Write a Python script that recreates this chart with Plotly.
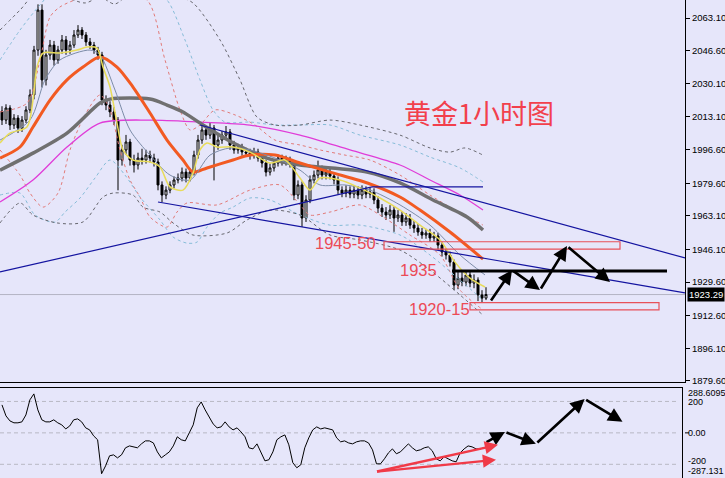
import plotly.graph_objects as go

BG = "#E6E6FA"

# ---------------- price data (1h candles) ----------------
BAR = list(range(122))
OPEN = [2016.0, 2011.5, 2017.6, 2009.0, 2012.5, 2007.5, 2011.5, 2016.6, 2024.2, 2046.9,
        2067.1, 2031.8, 2044.4, 2049.4, 2041.9, 2046.9, 2052.0, 2046.9, 2049.4, 2054.5,
        2057.0, 2054.5, 2051.0, 2049.4, 2046.9, 2044.4, 2021.6, 2019.1, 2015.6, 2011.5,
        1991.3, 1996.4, 2000.4, 1991.3, 1988.8, 1992.3, 1991.3, 1993.8, 1992.3, 1990.3,
        1978.7, 1973.6, 1976.1, 1978.7, 1981.2, 1982.2, 1985.2, 1982.2, 1985.2, 1993.8,
        2001.4, 2006.5, 2003.9, 2007.5, 1998.9, 2001.4, 2003.9, 2005.5, 1998.9, 1996.4,
        1997.4, 1995.4, 1994.8, 1993.8, 1995.4, 1992.3, 1989.8, 1985.2, 1987.3, 1989.8,
        1992.3, 1990.3, 1991.3, 1989.3, 1973.6, 1978.7, 1962.0, 1971.1, 1981.2, 1983.7,
        1986.3, 1983.7, 1985.2, 1983.2, 1981.2, 1976.1, 1974.6, 1976.1, 1974.1, 1976.1,
        1973.6, 1976.1, 1974.1, 1975.1, 1971.1, 1967.0, 1965.0, 1963.5, 1966.0, 1962.0,
        1963.5, 1960.0, 1962.0, 1958.4, 1956.9, 1954.9, 1953.4, 1954.4, 1951.9, 1952.9,
        1948.3, 1944.8, 1943.3, 1939.7, 1928.1, 1931.6, 1929.6, 1933.2, 1929.1, 1930.6,
        1923.1, 1921.5]
HIGH = [2018.5, 2019.5, 2019.0, 2014.5, 2014.0, 2013.5, 2018.5, 2027.0, 2049.0, 2070.0,
        2070.0, 2047.0, 2052.0, 2051.5, 2049.0, 2054.5, 2054.0, 2051.5, 2057.0, 2059.5,
        2058.5, 2056.0, 2053.0, 2051.0, 2048.5, 2046.0, 2024.0, 2021.0, 2018.0, 2013.0,
        1999.0, 2004.0, 2002.0, 1994.0, 1995.0, 1997.0, 1996.5, 1996.0, 1994.5, 1992.0,
        1980.5, 1978.0, 1980.5, 1983.0, 1984.5, 1987.5, 1987.0, 1987.0, 1996.0, 2004.0,
        2009.0, 2008.5, 2010.0, 2009.0, 2004.0, 2006.0, 2008.5, 2007.0, 2001.0, 1999.5,
        1999.5, 1997.5, 1997.0, 1997.5, 1997.0, 1994.0, 1991.5, 1989.5, 1991.5, 1994.0,
        1994.0, 1993.5, 1993.0, 1991.0, 1981.0, 1980.5, 1973.5, 1983.5, 1986.0, 1991.0,
        1988.5, 1987.5, 1987.5, 1985.0, 1983.0, 1978.0, 1978.5, 1978.0, 1978.5, 1978.0,
        1978.5, 1978.0, 1977.5, 1977.0, 1973.0, 1969.0, 1967.5, 1968.5, 1968.0, 1966.0,
        1965.5, 1964.5, 1964.0, 1960.5, 1959.0, 1957.0, 1956.5, 1956.5, 1955.0, 1954.5,
        1950.0, 1946.5, 1945.0, 1941.0, 1935.5, 1935.0, 1935.5, 1935.0, 1933.5, 1932.0,
        1925.5, 1927.0]
LOW = [2009.0, 2009.5, 2006.5, 2007.0, 2005.0, 2005.5, 2010.0, 2015.0, 2022.0, 2044.0,
       2028.0, 2029.0, 2042.0, 2039.0, 2040.0, 2045.0, 2044.5, 2045.0, 2048.0, 2053.0,
       2052.5, 2049.0, 2047.5, 2045.0, 2042.0, 2019.0, 2016.5, 2013.0, 2009.0, 1976.0,
       1988.5, 1994.0, 1988.5, 1985.0, 1986.5, 1989.0, 1989.5, 1990.0, 1988.0, 1976.0,
       1970.0, 1971.5, 1974.5, 1977.0, 1979.5, 1980.5, 1980.0, 1980.5, 1983.5, 1992.0,
       1999.5, 2001.5, 2002.0, 1981.0, 1996.5, 1999.5, 2002.0, 1996.5, 1994.5, 1994.5,
       1993.5, 1993.0, 1991.5, 1992.0, 1990.5, 1987.5, 1983.0, 1983.5, 1985.5, 1988.0,
       1988.5, 1988.5, 1987.5, 1971.0, 1971.5, 1957.5, 1960.0, 1969.5, 1979.5, 1982.0,
       1981.5, 1981.5, 1981.5, 1979.0, 1974.0, 1972.5, 1972.5, 1972.0, 1972.0, 1971.5,
       1971.5, 1972.0, 1972.0, 1969.0, 1964.5, 1962.5, 1961.0, 1961.5, 1955.0, 1960.0,
       1958.0, 1958.0, 1956.5, 1954.5, 1953.0, 1951.5, 1951.5, 1950.0, 1950.0, 1946.0,
       1942.5, 1941.0, 1937.5, 1925.5, 1926.0, 1927.5, 1927.5, 1927.0, 1926.5, 1920.0,
       1919.5, 1920.5]
CLOSE = [2011.5, 2017.6, 2009.0, 2012.5, 2007.5, 2011.5, 2016.6, 2024.2, 2046.9, 2067.1,
         2031.8, 2044.4, 2049.4, 2041.9, 2046.9, 2052.0, 2046.9, 2049.4, 2054.5, 2057.0,
         2054.5, 2051.0, 2049.4, 2046.9, 2044.4, 2021.6, 2019.1, 2015.6, 2011.5, 1991.3,
         1996.4, 2000.4, 1991.3, 1988.8, 1992.3, 1991.3, 1993.8, 1992.3, 1990.3, 1978.7,
         1973.6, 1976.1, 1978.7, 1981.2, 1982.2, 1985.2, 1982.2, 1985.2, 1993.8, 2001.4,
         2006.5, 2003.9, 2007.5, 1998.9, 2001.4, 2003.9, 2005.5, 1998.9, 1996.4, 1997.4,
         1995.4, 1994.8, 1993.8, 1995.4, 1992.3, 1989.8, 1985.2, 1987.3, 1989.8, 1992.3,
         1990.3, 1991.3, 1989.3, 1973.6, 1978.7, 1962.0, 1971.1, 1981.2, 1983.7, 1986.3,
         1983.7, 1985.2, 1983.2, 1981.2, 1976.1, 1974.6, 1976.1, 1974.1, 1976.1, 1973.6,
         1976.1, 1974.1, 1975.1, 1971.1, 1967.0, 1965.0, 1963.5, 1966.0, 1962.0, 1963.5,
         1960.0, 1962.0, 1958.4, 1956.9, 1954.9, 1953.4, 1954.4, 1951.9, 1952.9, 1948.3,
         1944.8, 1943.3, 1939.7, 1928.1, 1931.6, 1929.6, 1933.2, 1929.1, 1930.6, 1923.1,
         1921.5, 1923.3]

CCI = [178, 108, 76, 64, 64, 70, 114, 210, 248, 146,
       83, 70, 70, 83, 64, 51, 25, 44, 83, 89,
       70, 32, 19, -19, -44, -260, -210, -146, -140, -159,
       -140, -95, -83, -89, -95, -70, -51, -51, -64, -121,
       -159, -140, -121, -83, -25, -44, -51, 0, 51, 159,
       197, 146, 102, 57, 32, 38, 70, 38, 19, 32,
       6, -25, -95, -102, -70, -121, -178, -171, -121, -44,
       -25, -13, -76, -190, -222, -203, -95, -32, 19, 38,
       25, 32, 25, 19, -32, -57, -51, -64, -70, -57,
       -51, -51, -64, -108, -197, -197, -165, -127, -102, -133,
       -121, -95, -70, -95, -114, -108, -95, -89, -114, -165,
       -178, -152, -165, -178, -184, -127, -102, -83, -89, -102,
       -102, -95]

# ---------------- moving averages ----------------
YELLOW_X = [-0.5, 2, 6.25, 7.75, 8.75, 10.25, 14.5, 18.75, 21.25, 23.75, 25.25, 27, 28.75, 30.25,
            32.75, 37, 39.5, 42, 45.25, 47.75, 49.5, 51.25, 53.75, 57.75, 62, 67, 70.75, 74.5,
            77, 79.5, 84.5, 89.5, 94.5, 99.5, 104.5, 109.5, 113.25, 117, 120.75]
YELLOW_Y = [1999.9, 2004.9, 2008.0, 2021.6, 2038.3, 2045.4, 2045.4, 2046.9, 2048.4, 2047.9,
            2038.3, 2028.2, 2010.0, 1996.4, 1991.3, 1990.3, 1987.8, 1977.7, 1976.1, 1984.7,
            1996.4, 1999.9, 1997.9, 1997.9, 1995.3, 1989.8, 1991.3, 1982.2, 1976.1, 1982.2,
            1981.2, 1977.1, 1972.1, 1966.0, 1958.4, 1950.9, 1939.7, 1931.6, 1927.1]
THIN_X = [-0.5, 7, 10.75, 14.5, 22, 24.5, 28.25, 32, 37, 42, 47, 52, 57, 62, 69.5, 74.5,
          79.5, 85.75, 92, 99.5, 107, 114.5, 120.75]
THIN_Y = [2001.4, 2011.5, 2031.8, 2041.9, 2046.9, 2044.4, 2026.7, 2006.5, 1993.8, 1983.7,
          1981.2, 1993.8, 1997.4, 1996.4, 1991.3, 1986.2, 1978.7, 1978.7, 1976.1, 1968.6,
          1958.4, 1943.3, 1933.2]
ORANGE_X = [-0.5, 4.5, 7.75, 12, 16.25, 20.25, 24.5, 28.75, 32.75, 37, 41.25, 45.25, 47.75,
            51.25, 57.75, 62, 68.25, 74.5, 82, 92, 99.5, 104.5, 112, 120.25]
ORANGE_Y = [1992.3, 1997.9, 2008.0, 2021.6, 2031.8, 2038.3, 2043.4, 2038.3, 2028.2, 2015.1,
            2001.4, 1991.3, 1985.2, 1987.3, 1991.3, 1993.8, 1993.8, 1989.8, 1985.2, 1979.2,
            1972.6, 1966.0, 1954.9, 1941.2]
GRAY_X = [-0.5, 7.75, 16.25, 24.5, 27, 37, 41.25, 45.25, 49.5, 57.75, 66.25, 74.5, 91.25,
          99.5, 107.75, 116.25, 120.25]
GRAY_Y = [1986.2, 1994.8, 2004.9, 2020.1, 2022.1, 2022.1, 2019.1, 2015.6, 2010.0, 2000.0,
          1992.3, 1988.8, 1985.2, 1979.7, 1971.1, 1962.5, 1955.9]
MAGENTA_X = [-0.5, 7.75, 16.25, 24.5, 37, 49.5, 62, 74.5, 87, 99.5, 107, 114.5, 120.25]
MAGENTA_Y = [1970.1, 1981.2, 1997.9, 2010.0, 2011.5, 2010.5, 2009.0, 2003.9, 1996.4, 1988.8,
             1981.2, 1973.6, 1966.0]

# ---------------- envelope bands (dashed) ----------------
RED_UP_X = [-0.5, 6.25, 9.5, 12, 14.5, 19.5, 27, 36.25, 40.75, 44.5, 47, 49.5, 53.25, 58.25,
            63.25, 68.25, 74.5, 79.5, 85.75, 92, 99.5, 107, 113.25, 120.25]
RED_UP_Y = [2015.6, 2020.1, 2041.9, 2063.6, 2068.7, 2073.2, 2077.3, 2072.2, 2041.9, 2016.6,
            2006.5, 2009.0, 2016.6, 2014.1, 2009.0, 2001.4, 1998.9, 1996.4, 1993.8, 1991.3,
            1983.7, 1973.6, 1966.0, 1958.4]
RED_LO_X = [-0.5, 4.5, 7, 10.25, 14, 17, 20.75, 24.5, 27, 29.5, 32, 34.5, 37, 41.25, 43.75,
            46.25, 53.75, 62, 69.5, 74.5, 77, 82, 89.5, 94.5, 102, 109.5, 114.5, 120.25]
RED_LO_Y = [1996.4, 1983.7, 1974.6, 1967.5, 1974.6, 1996.4, 2014.1, 2024.2, 2016.6, 1996.4,
            1981.2, 1972.6, 1962.5, 1957.4, 1965.0, 1969.6, 1968.6, 1976.1, 1978.7, 1968.6,
            1963.5, 1965.0, 1968.6, 1963.5, 1953.4, 1943.3, 1925.6, 1915.5]
BLUE_UP_X = [-0.5, 4.5, 9.5, 14.5, 22, 29.5, 37, 41.25, 45.75, 49.5, 52.75, 55.75, 62, 68.25,
             74.5, 82, 89.5, 99.5, 107, 114.5, 120.25]
BLUE_UP_Y = [2041.9, 2057.0, 2069.7, 2079.8, 2074.7, 2077.3, 2077.3, 2072.2, 2052.0, 2031.8,
             2016.6, 2010.5, 2010.5, 2009.0, 2009.0, 2009.0, 2003.9, 1998.9, 1992.8, 1987.3,
             1980.2]
BLUE_LO_X = [-0.5, 4.5, 8.25, 13.25, 15.75, 19.5, 23.25, 27, 30.75, 34.5, 39.5, 42.75, 46.25,
             48.75, 51.25, 54.5, 57.75, 62, 67, 74.5, 82, 89.5, 99.5, 107, 114.5, 120.25]
BLUE_LO_Y = [1973.6, 1974.6, 1963.5, 1959.9, 1965.0, 1972.1, 1982.2, 1991.3, 1983.7, 1972.6,
             1961.0, 1952.4, 1949.3, 1949.8, 1957.4, 1964.5, 1967.5, 1972.1, 1971.1, 1963.5,
             1958.4, 1958.4, 1953.4, 1943.3, 1930.6, 1920.5]
GREY_UP_X = [-0.5, 4.5, 9.5, 20.75, 24.5, 28.25, 34.5, 43.25, 47.75, 54.5, 59.5, 63.75, 68.25,
             74.5, 82, 89.5, 99.5, 107, 112, 115.75, 120.25]
GREY_UP_Y = [2057.0, 2067.1, 2077.3, 2070.7, 2073.7, 2070.2, 2079.8, 2074.7, 2070.7, 2052.0,
             2031.8, 2013.0, 2009.0, 2009.0, 2011.5, 2009.0, 2003.9, 1997.4, 1995.3, 1997.4,
             1993.8]
GREY_LO_X = [-0.5, 4.5, 7.75, 13.75, 20.25, 25.25, 27.75, 32.75, 35.25, 39.5, 42.75, 47.75,
             56.25, 61.25, 67, 74.5, 82, 89.5, 99.5, 107, 114.5, 120.25]
GREY_LO_Y = [1959.5, 1969.6, 1963.5, 1959.5, 1960.0, 1972.6, 1974.6, 1973.6, 1967.5, 1965.0,
             1959.5, 1953.4, 1954.4, 1961.0, 1966.0, 1963.5, 1953.4, 1950.9, 1945.8, 1935.7,
             1923.1, 1912.9]

# ---------------- drawn objects ----------------
TREND_RISE = ([-0.5, 92.5], [1934.7, 1977.7])
TREND_FLAT = ([92.5, 120.25], [1977.7, 1977.7])
TREND_UPPER = ([49.5, 170.75], [2009.0, 1941.8])
TREND_LOWER = ([39.0, 170.75], [1970.1, 1924.1])
LEVEL_1935 = ([112.5, 166.25], [1935.2, 1935.2])
ZONE_1945_50 = (95.5, 154.5, 1946.3, 1950.0)
ZONE_1920_15 = (117.0, 164.25, 1915.6, 1919.2)
LAST_PRICE = 1923.29
PRICE_PATH = [(122, 1919.5), (127.5, 1935.7), (134.5, 1925.6), (141.25, 1947.8), (152, 1929.6)]
CCI_PATH = [(121.25, -63.5), (126.25, 6.3), (134, -69.9), (146.25, 216), (155.75, 70)]
CCI_RED = [((93.75, -247.7), (124.5, -76)), ((93.75, -247.7), (124, -171))]

PRICE_TICKS = [2063.10, 2046.60, 2030.10, 2013.10, 1996.60, 1979.60, 1963.10, 1946.10,
               1929.60, 1912.60, 1896.10, 1879.60]
CCI_TICKS = [288.6095, 200, 0, -200, -287.131]
CCI_TICKTEXT = ["288.6095", "200", "0.00", "-200", "-287.131"]
CCI_LABEL_SHIFT = [-5, -1, 0, 3, 7]   # px, MT4 nudges edge labels inward

XR = [-0.5, 170.75]

fig = go.Figure()

fig.add_trace(go.Candlestick(
    x=BAR, open=OPEN, high=HIGH, low=LOW, close=CLOSE,
    increasing=dict(line=dict(color="black", width=1), fillcolor="white"),
    decreasing=dict(line=dict(color="black", width=1), fillcolor="black"),
    whiskerwidth=0, showlegend=False, hoverinfo="skip", xaxis="x", yaxis="y"))


def line(xs, ys, color, width, dash="solid", shape="spline", xa="x", ya="y"):
    fig.add_trace(go.Scatter(x=xs, y=ys, mode="lines",
                             line=dict(color=color, width=width, dash=dash, shape=shape,
                                       smoothing=0.8 if shape == "spline" else None),
                             showlegend=False, hoverinfo="skip", xaxis=xa, yaxis=ya))


for xs, ys, c in [(RED_UP_X, RED_UP_Y, "#E27A78"), (RED_LO_X, RED_LO_Y, "#E27A78"),
                  (BLUE_UP_X, BLUE_UP_Y, "#86BCD8"), (BLUE_LO_X, BLUE_LO_Y, "#86BCD8"),
                  (GREY_UP_X, GREY_UP_Y, "#66666E"), (GREY_LO_X, GREY_LO_Y, "#66666E")]:
    line(xs, ys, c, 1, dash="3px,3px")

line(MAGENTA_X, MAGENTA_Y, "#E03CD8", 1.3)
line(GRAY_X, GRAY_Y, "#707070", 3.5)
line(ORANGE_X, ORANGE_Y, "#F25A22", 3)
line(THIN_X, THIN_Y, "#7C8CA8", 1)
line(YELLOW_X, YELLOW_Y, "#E8DC5A", 1.5)

for xs, ys in [TREND_RISE, TREND_FLAT, TREND_UPPER, TREND_LOWER]:
    line(xs, ys, "#1414A0", 1.2, shape="linear")
line(LEVEL_1935[0], LEVEL_1935[1], "black", 3, shape="linear")

line(BAR, CCI, "black", 1, shape="linear", xa="x2", ya="y2")

shapes = []
shapes.append(dict(type="line", xref="x", yref="y", x0=XR[0], x1=XR[1],
                   y0=LAST_PRICE, y1=LAST_PRICE, line=dict(color="#B4B4C4", width=1), layer="below"))
for z in [ZONE_1945_50, ZONE_1920_15]:
    shapes.append(dict(type="rect", xref="x", yref="y", x0=z[0], x1=z[1], y0=z[2], y1=z[3],
                       line=dict(color="#E8505A", width=1.2), fillcolor="rgba(0,0,0,0)"))
for v in [200, 0, -200]:
    shapes.append(dict(type="line", xref="x2", yref="y2", x0=XR[0], x1=169.9, y0=v, y1=v,
                       line=dict(color="#B8B8C4", width=1, dash="4px,3px"), layer="below"))
# small tick at the CCI zero level
shapes.append(dict(type="line", xref="paper", yref="y2", x0=1.0, x1=1.006, y0=0, y1=0,
                   line=dict(color="black", width=1)))

annotations = []


def arrow(p0, p1, xr, yr, color="black", w=2.6):
    annotations.append(dict(x=p1[0], y=p1[1], ax=p0[0], ay=p0[1], xref=xr, yref=yr,
                            axref=xr, ayref=yr, text="", showarrow=True, arrowhead=2,
                            arrowsize=1.1, arrowwidth=w, arrowcolor=color))


for a, b in zip(PRICE_PATH[:-1], PRICE_PATH[1:]):
    arrow(a, b, "x", "y")
for a, b in zip(CCI_PATH[:-1], CCI_PATH[1:]):
    arrow(a, b, "x2", "y2")
for a, b in CCI_RED:
    arrow(a, b, "x2", "y2", color="#F03A48", w=2.4)

for v, t, s in zip(CCI_TICKS, CCI_TICKTEXT, CCI_LABEL_SHIFT):
    annotations.append(dict(x=1, y=v, xref="paper", yref="y2", xanchor="left", xshift=1,
                            yshift=s, text=t, showarrow=False,
                            font=dict(family="Liberation Sans", size=9, color="black")))

RED = "#EC4A56"
annotations += [
    dict(x=119.25, y=2015.1, xref="x", yref="y", text="黄金1小时图", showarrow=False,
         font=dict(family="Noto Sans CJK SC", size=27, color="#F2404C")),
    dict(x=85.8, y=1949.3, xref="x", yref="y", text="1945-50", showarrow=False,
         font=dict(family="Liberation Sans", size=16.5, color=RED)),
    dict(x=104, y=1935.9, xref="x", yref="y", text="1935", showarrow=False,
         font=dict(family="Liberation Sans", size=16.5, color=RED)),
    dict(x=109.25, y=1916.2, xref="x", yref="y", text="1920-15", showarrow=False,
         font=dict(family="Liberation Sans", size=16.5, color=RED)),
    dict(x=1, y=LAST_PRICE, xref="paper", yref="y", xanchor="left", xshift=2,
         text="%.2f" % LAST_PRICE, showarrow=False, bgcolor="black", borderpad=1,
         font=dict(family="Liberation Sans", size=9.5, color="white")),
]

fig.update_layout(
    width=725, height=478, margin=dict(l=0, r=40, t=0, b=0),
    paper_bgcolor=BG, plot_bgcolor=BG, showlegend=False,
    shapes=shapes, annotations=annotations,
    font=dict(family="Liberation Sans", size=9, color="black"),
    xaxis=dict(domain=[0, 1], range=XR, anchor="y", showticklabels=False, showgrid=False,
               zeroline=False, showline=True, linecolor="black", linewidth=1,
               rangeslider=dict(visible=False), fixedrange=True),
    xaxis2=dict(domain=[0, 0.996], range=XR, anchor="y2", side="top", showticklabels=False,
                showgrid=False, zeroline=False, showline=True, linecolor="black", linewidth=1),
    yaxis=dict(domain=[0.2008, 1], range=[1879.08, 2072.2], side="right", showgrid=False,
               zeroline=False, showline=True, linecolor="black", linewidth=1,
               ticks="outside", ticklen=4, tickcolor="black",
               tickvals=PRICE_TICKS, ticktext=["%.2f" % v for v in PRICE_TICKS],
               tickfont=dict(family="Liberation Sans", size=9.5), automargin=False),
    yaxis2=dict(domain=[0, 0.1893], range=[-287.131, 288.6095], side="right", anchor="x2",
                showgrid=False, zeroline=False, showline=True, linecolor="black", linewidth=1,
                ticks="", showticklabels=False, automargin=False),
)

fig.write_html("out.html")
